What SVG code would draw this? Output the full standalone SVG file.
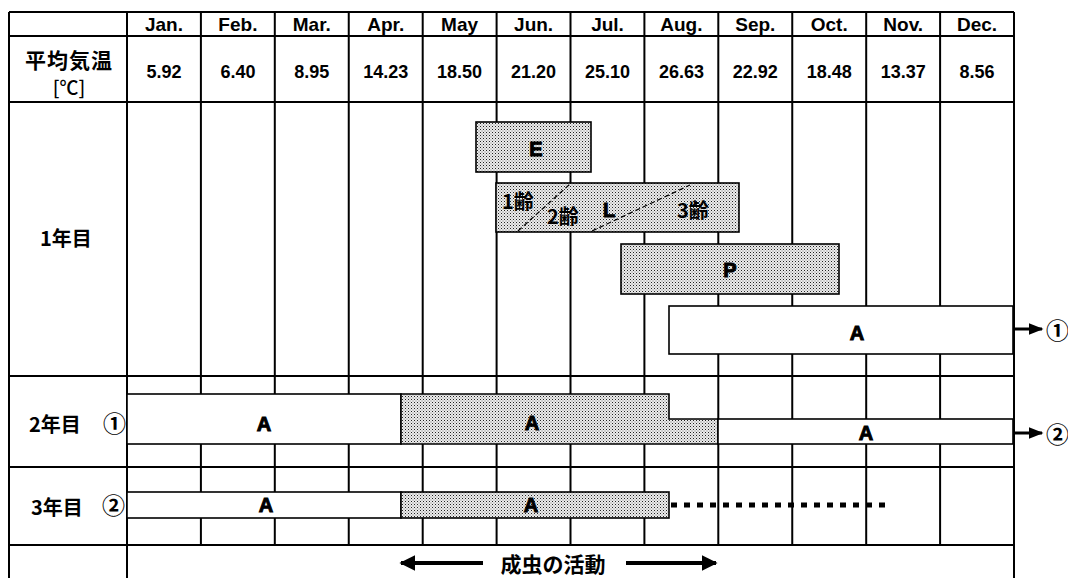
<svg xmlns="http://www.w3.org/2000/svg" width="1068" height="578" viewBox="0 0 1068 578">
<defs>
<pattern id="dots" width="3" height="3" patternUnits="userSpaceOnUse">
<rect width="3" height="3" fill="#ececec"/>
<rect width="1" height="1" fill="#222"/>
<rect x="1.5" y="1.5" width="1" height="1" fill="#777"/>
</pattern>
<marker id="ah" viewBox="0 0 10 10" refX="9" refY="5" markerWidth="4" markerHeight="4" orient="auto" markerUnits="strokeWidth">
<path d="M0,0 L10,5 L0,10 z" fill="#000"/>
</marker>
<marker id="ahs" viewBox="0 0 10 10" refX="9" refY="5" markerWidth="5" markerHeight="5" orient="auto" markerUnits="strokeWidth">
<path d="M0,1 L10,5 L0,9 z" fill="#000"/>
</marker>
</defs>
<style>
.g{stroke:#000;stroke-width:2;fill:none}
.h{font-family:"Liberation Sans",Arial,sans-serif;font-size:19px;font-weight:bold;fill:#000;text-anchor:middle}
.n{font-family:"Liberation Sans",Arial,sans-serif;font-size:18px;font-weight:bold;fill:#000;text-anchor:middle}
.j{font-family:"Noto Sans CJK JP",sans-serif;font-weight:bold;fill:#000;dominant-baseline:central}
.c{font-family:"Noto Sans CJK JP",sans-serif;font-weight:bold;font-size:23px;fill:#000;dominant-baseline:central}
.bar{stroke:#000;stroke-width:1.6;fill:#fff}
.st{stroke:#000;stroke-width:1.6;fill:url(#dots)}
.lb{font-family:"Liberation Sans",Arial,sans-serif;font-weight:900;font-size:20px;fill:#000;stroke:#000;stroke-width:1;text-anchor:middle;dominant-baseline:central}
.k{font-family:"Noto Sans CJK JP",sans-serif;font-weight:bold;font-size:20px;fill:#000;dominant-baseline:central}
</style>
<rect width="1068" height="578" fill="#fff"/>
<g id="grid">
<path class="g" d="M9,12H1014 M9,36H1014 M9,102H1014 M9,376H1014 M9,467H1014 M9,545H1014 M9,12V578 M127,12V578 M1014,12V578"/>
<path class="g" d="M200.9,12V545 M274.8,12V545 M348.75,12V545 M422.7,12V545 M496.6,12V545 M570.5,12V545 M644.4,12V545 M718.3,12V545 M792.25,12V545 M866.2,12V545 M940.1,12V545"/>
</g>
<g id="header">
<text class="h" x="164" y="31">Jan.</text>
<text class="h" x="237.9" y="31">Feb.</text>
<text class="h" x="311.8" y="31">Mar.</text>
<text class="h" x="385.7" y="31">Apr.</text>
<text class="h" x="459.6" y="31">May</text>
<text class="h" x="533.6" y="31">Jun.</text>
<text class="h" x="607.5" y="31">Jul.</text>
<text class="h" x="681.4" y="31">Aug.</text>
<text class="h" x="755.3" y="31">Sep.</text>
<text class="h" x="829.2" y="31">Oct.</text>
<text class="h" x="903.2" y="31">Nov.</text>
<text class="h" x="977" y="31">Dec.</text>
</g>
<g id="temps">
<text class="j" x="69" y="59" font-size="21" text-anchor="middle" letter-spacing="1">平均気温</text>
<text class="j" x="69" y="86" font-size="19" text-anchor="middle" style="font-weight:500">[℃]</text>
<text class="n" x="164" y="78">5.92</text>
<text class="n" x="237.9" y="78">6.40</text>
<text class="n" x="311.8" y="78">8.95</text>
<text class="n" x="385.7" y="78">14.23</text>
<text class="n" x="459.6" y="78">18.50</text>
<text class="n" x="533.6" y="78">21.20</text>
<text class="n" x="607.5" y="78">25.10</text>
<text class="n" x="681.4" y="78">26.63</text>
<text class="n" x="755.3" y="78">22.92</text>
<text class="n" x="829.2" y="78">18.48</text>
<text class="n" x="903.2" y="78">13.37</text>
<text class="n" x="977" y="78">8.56</text>
</g>
<g id="rowlabels">
<text class="j" x="40" y="237" font-size="20">1年目</text>
<text class="j" x="29" y="423" font-size="20">2年目</text>
<text class="c" x="103" y="422">①</text>
<text class="j" x="31" y="506" font-size="20">3年目</text>
<text class="c" x="102" y="504">②</text>
</g>
<g id="egg">
<rect class="st" x="476" y="122" width="115" height="50"/>
<text class="lb" x="536" y="149">E</text>
</g>
<g id="larva">
<rect class="st" x="496" y="183" width="243" height="49"/>
<path d="M518,231L570,184 M592,231L690,185" stroke="#000" stroke-width="1.2" stroke-dasharray="5 3" fill="none"/>
<text class="k" x="502" y="200">1齢</text>
<text class="k" x="547" y="215">2齢</text>
<text class="lb" x="609" y="210">L</text>
<text class="k" x="677" y="209">3齢</text>
</g>
<g id="pupa">
<rect class="st" x="621" y="244" width="218" height="50"/>
<text class="lb" x="730" y="270">P</text>
</g>
<g id="adult1">
<rect class="bar" x="669" y="306" width="344" height="48"/>
<text class="lb" x="857" y="333">A</text>
</g>
<g id="adult2">
<rect class="bar" x="127" y="394" width="274" height="50"/>
<text class="lb" x="264" y="424">A</text>
<path class="st" d="M401,394H669V419H718V444H401Z"/>
<text class="lb" x="532" y="423">A</text>
<rect class="bar" x="718" y="419" width="295" height="25"/>
<text class="lb" x="866" y="433">A</text>
</g>
<g id="adult3">
<rect class="bar" x="127" y="492" width="274" height="26"/>
<text class="lb" x="266" y="505">A</text>
<rect class="st" x="401" y="492" width="268" height="26"/>
<text class="lb" x="531" y="505">A</text>
</g>
<g id="connectors">
<line x1="1014" y1="329" x2="1042" y2="329" stroke="#000" stroke-width="3" marker-end="url(#ahs)"/>
<line x1="1014" y1="433" x2="1042" y2="433" stroke="#000" stroke-width="3" marker-end="url(#ahs)"/>
<line x1="671" y1="505" x2="890" y2="505" stroke="#000" stroke-width="5" stroke-dasharray="6 7"/>
<line x1="483" y1="563" x2="401" y2="563" stroke="#000" stroke-width="4" marker-end="url(#ah)"/>
<line x1="626" y1="563" x2="716" y2="563" stroke="#000" stroke-width="4" marker-end="url(#ah)"/>
</g>
<g id="circles">
<text class="c" x="1046" y="329">①</text>
<text class="c" x="1046" y="433">②</text>
</g>
<g id="caption">
<text class="j" x="553" y="563" font-size="21" text-anchor="middle">成虫の活動</text>
</g>
</svg>
